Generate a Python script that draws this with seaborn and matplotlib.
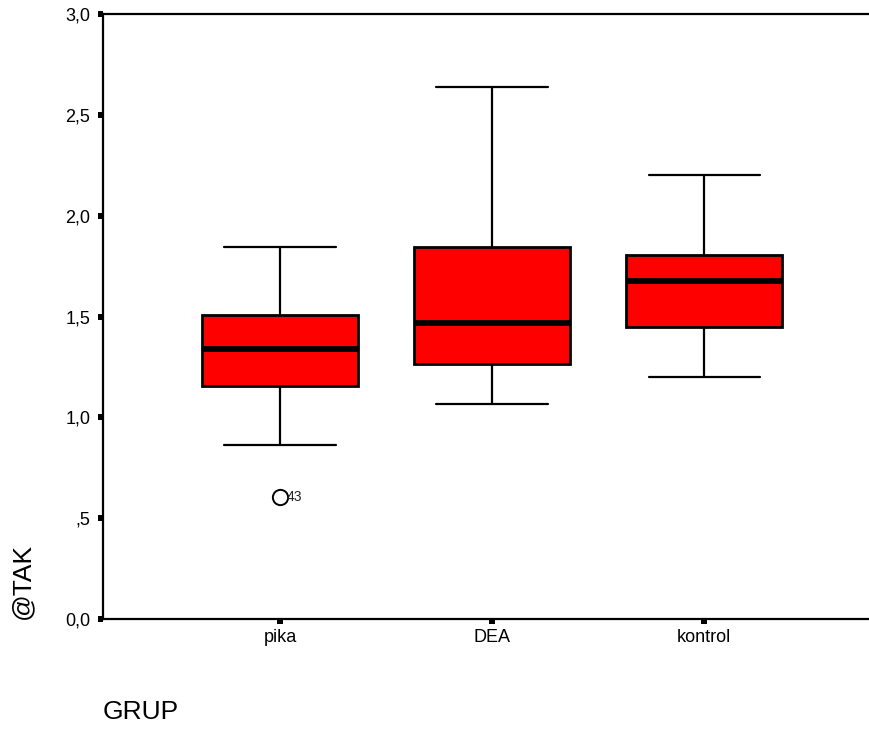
import pandas as pd
import matplotlib
matplotlib.use("Agg")
import matplotlib.pyplot as plt
import seaborn as sns

# values (low whisker, Q1, median, Q3, high whisker, outliers)
groups = ["pika", "DEA", "kontrol"]
pika_vals = [0.605, 0.863, 1.155, 1.155, 1.339, 1.507, 1.507, 1.846, 1.846]
dea_vals = [1.065, 1.263, 1.469, 1.846, 2.640]
kontrol_vals = [1.202, 1.450, 1.678, 1.805, 2.202]
outlier_labels = [("pika", 0.605, "43")]

y_ticks = [0.0, 0.5, 1.0, 1.5, 2.0, 2.5, 3.0]
y_ticklabels = ["0,0", ",5", "1,0", "1,5", "2,0", "2,5", "3,0"]


def main():
    rows = []
    for g, vals in zip(groups, [pika_vals, dea_vals, kontrol_vals]):
        rows += [{"GRUP": g, "TAK": v} for v in vals]
    df = pd.DataFrame(rows)

    sns.set_style("ticks")
    plt.rcParams["font.family"] = ["Liberation Sans", "DejaVu Sans"]

    fig = plt.figure(figsize=(8.69, 7.29), dpi=100)
    ax = fig.add_axes([103 / 869, 1 - 619 / 729, 1 - 103 / 869, (619 - 14) / 729])

    sns.boxplot(
        data=df, x="GRUP", y="TAK", order=groups, ax=ax,
        color="#ff0000", saturation=1, width=0.736, linecolor="black",
        linewidth=1.5, whis=1.5,
        boxprops=dict(facecolor="#ff0000", edgecolor="black", linewidth=2),
        whiskerprops=dict(color="black", linewidth=1.6),
        capprops=dict(color="black", linewidth=1.6),
        medianprops=dict(color="black", linewidth=4.2),
        flierprops=dict(marker="o", markerfacecolor="white", markeredgecolor="black",
                        markersize=11, markeredgewidth=1.4),
        capwidths=0.524,
    )

    for g, v, lab in outlier_labels:
        ax.annotate(lab, xy=(groups.index(g), v), xytext=(4.5, 0), textcoords="offset points",
                    ha="left", va="center", fontsize=10, color="#222222")

    ax.set_xlim(-0.835, 2.778)
    ax.set_ylim(0, 3.0)
    ax.set_yticks(y_ticks)
    ax.set_yticklabels(y_ticklabels)
    ax.tick_params(axis="both", direction="out", length=3.6, width=4.3, color="black",
                   labelsize=13, labelcolor="black")
    ax.tick_params(axis="y", pad=5.5)
    ax.tick_params(axis="x", pad=3.5)

    for side in ["left", "top", "bottom"]:
        ax.spines[side].set_linewidth(1.6)
        ax.spines[side].set_color("black")
    ax.spines["right"].set_visible(False)

    ax.set_ylabel("@TAK", fontsize=19, loc="bottom", color="black")
    ax.yaxis.set_label_coords(-0.09, 0)
    ax.set_xlabel("GRUP", fontsize=19, loc="left", color="black")
    ax.xaxis.label.set_va("baseline")
    ax.xaxis.set_label_coords(0, -0.165)

    plt.savefig("out.png", dpi=100)
    plt.close()


if __name__ == "__main__":
    main()
